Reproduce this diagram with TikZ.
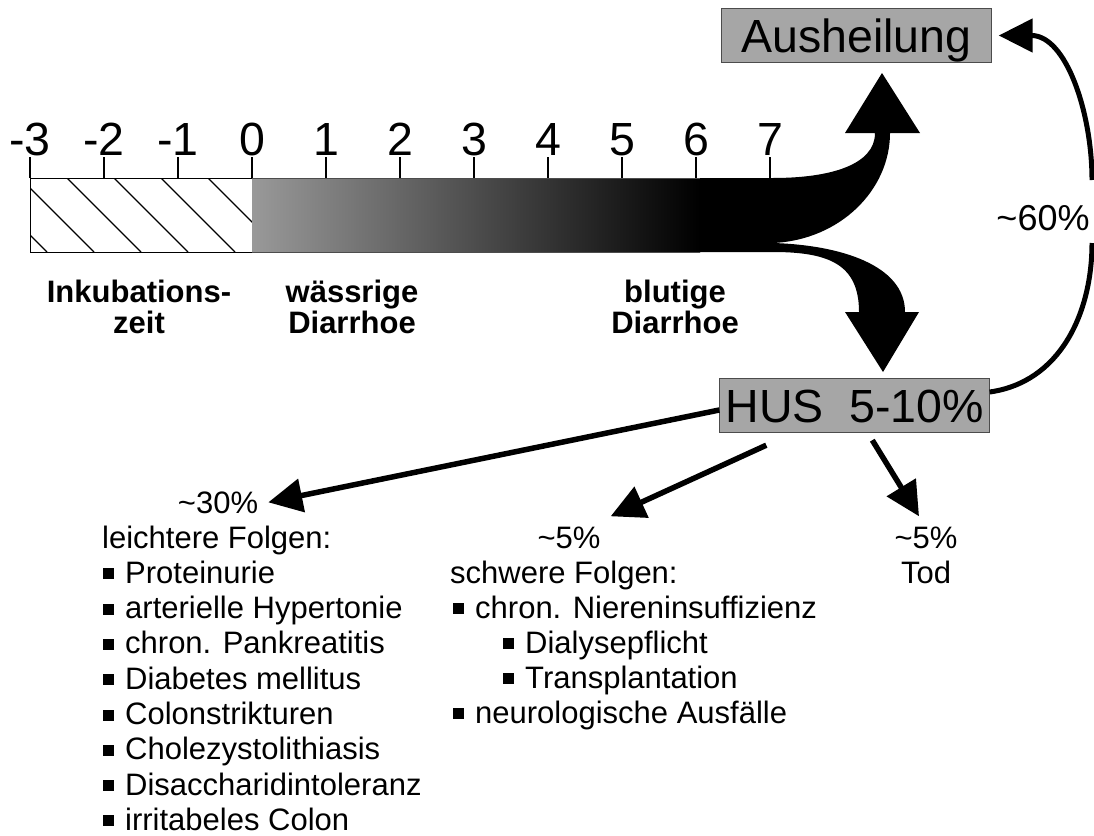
\documentclass[tikz,border=0pt]{standalone}
\usepackage{fontspec}
\setmainfont{Liberation Sans}
\usetikzlibrary{positioning, arrows.meta}
\colorlet{boxgray}{black!35}
\newcommand\bigsize{\fontsize{46.5pt}{50pt}\selectfont}
\newcommand\pctsize{\fontsize{36pt}{40pt}\selectfont}
\newcommand\listsize{\fontsize{31pt}{35pt}\selectfont}
\newcommand\sqb{\rule[4pt]{11pt}{11pt}\hspace{11pt}}
\tikzset{ % styles for the course diagram
  tick label/.style={font=\bigsize,anchor=base,inner sep=0pt},
  phase/.style={font={\listsize\bfseries},anchor=base,inner sep=0pt},
  outcome/.style={draw=black!70,fill=boxgray,font=\bigsize,text height=34pt,
    text depth=0pt,minimum height=54pt,minimum width=270pt,inner sep=0pt},
  item/.style={font=\listsize,anchor=base west,inner sep=0pt},
  pct/.style={font=\listsize,anchor=base,inner sep=10pt},
  flow/.style={line width=5.5pt,-{Triangle[length=34pt,width=33pt]}}
}

\begin{document}
\begin{tikzpicture}[x=1pt,y=-1pt]
\useasboundingbox (0,0) rectangle (1094,835);

% incubation (hatched)
\begin{scope}
  \clip (30,178) rectangle (252,252);
  \foreach\h in {-27,20,...,208}
    \draw[line width=1.2pt] (\h,178) -- ++(74,74);
\end{scope}
\draw[line width=1pt] (30,178) rectangle (252,252);

% diarrhoea band splitting into two flows
\fill[black] (690,178) -- (773,178) .. controls (830,178) and (875,165) .. (875,133)
  -- (845,133) -- (882,73) -- (920,133) -- (890,133)
  .. controls (890,190) and (840,240) .. (773,243)
  .. controls (840,245) and (905,265) .. (905,312)
  -- (919,312) -- (883,372) -- (845,312) -- (859,312)
  .. controls (859,265) and (830,252) .. (773,252) -- (690,252) -- cycle;
\shade[left color=black!40,middle color=black!78,right color=black] (252,178) rectangle (700,252);
\draw[black!70,line width=1pt] (252,178) -- (700,178) (252,252) -- (700,252);

% time axis
\foreach\n [count=\i from 0] in {-3,...,7}
{
  \draw[line width=2pt] (30+74*\i,157) -- (30+74*\i,178);
  \node[tick label] (t\i) at (30+74*\i,155) {\n};
}

% phases
\foreach\x/\a/\b [count=\i] in {139/Inkubations-/zeit,352/wässrige/Diarrhoe,675/blutige/Diarrhoe}
{
  \node[phase] (phA\i) at (\x,302) {\a};
  \node[phase] (phB\i) at (\x,333) {\b};
}

% outcomes
\node[outcome] (heal) at (856.5,35.5) {Ausheilung};
\node[outcome] (hus)  at (854.5,405)  {HUS\hspace{0.55em}5-10\%};

% HUS back to healing
\coordinate (c60lo) at (1092,243);
\coordinate (c60hi) at (1092,180);
\draw[line width=5pt] ([yshift=13pt]hus.east) to[out=8,in=-90] (c60lo);
\draw[flow,line width=5pt] (c60hi) to[out=90,in=0] ([xshift=7pt]heal.east);
\node[font=\pctsize,anchor=base,inner sep=0pt] (p60) at (1043,230) {\textasciitilde60\%};

% consequences
\node[pct] (p30) at (218,513) {\textasciitilde30\%};
\node[pct] (p5s) at (569,548) {\textasciitilde5\%};
\node[pct] (p5d) at (926,548) {\textasciitilde5\%};
\node[pct] (tod) at (926,583) {Tod};

\draw[flow] ([yshift=-5pt]hus.west) -- (p30.east);
\draw[flow] ([shift={(47,13)}]hus.south west) -- (p5s.north east);
\draw[flow] ([shift={(153,8)}]hus.south west) -- ([xshift=-7pt]p5d.north);

\node[item] (mild) at (102,548) {leichtere Folgen:};
\foreach\t [count=\i] in {Proteinurie,arterielle Hypertonie,chron. Pankreatitis,
  Diabetes mellitus,Colonstrikturen,Cholezystolithiasis,Disaccharidintoleranz,
  irritabeles Colon}
  \node[item] (mild\i) at (103,{548+35.3*\i}) {\sqb\t};

\node[item] (severe)  at (450,583) {schwere Folgen:};
\node[item] (severe1) at (453,618) {\sqb chron. Niereninsuffizienz};
\node[item] (severe2) at (503,653) {\sqb Dialysepflicht};
\node[item] (severe3) at (503,688) {\sqb Transplantation};
\node[item] (severe4) at (453,723) {\sqb neurologische Ausfälle};
\end{tikzpicture}
\end{document}
